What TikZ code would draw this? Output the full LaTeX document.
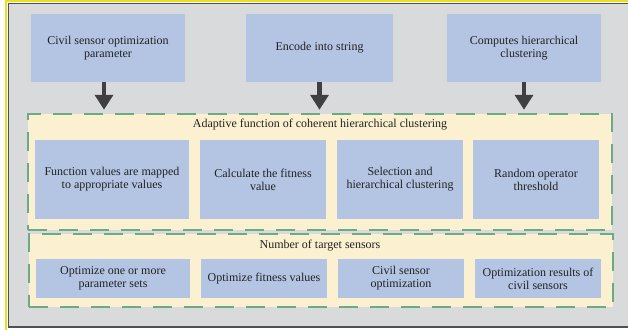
\documentclass[tikz,border=0pt]{standalone}
\usepackage{fontspec}
\setmainfont{Liberation Serif}
\usetikzlibrary{arrows.meta}

\definecolor{bggray}{HTML}{D9DADB}
\definecolor{framegray}{HTML}{505050}
\definecolor{frameyellow}{HTML}{E8E020}
\definecolor{boxblue}{HTML}{B4C5E4}
\definecolor{creambg}{HTML}{FBF1D0}
\definecolor{dashgreen}{HTML}{6BAA85}
\definecolor{arrowgray}{HTML}{404040}
\definecolor{txtgray}{HTML}{222222}

\tikzset{
	blkbox/.style={fill=boxblue, inner sep=0pt, align=center, text=txtgray,
		font=\fontsize{12}{13}\selectfont},
	panel/.style={fill=creambg, draw=dashgreen, line width=2.5pt,
		dash pattern=on 19pt off 12pt, inner sep=0pt},
	paneltitle/.style={text=txtgray, font=\fontsize{12}{13}\selectfont},
	fatarrow/.style={draw=arrowgray, line width=4.5pt,
		-{Triangle[width=18pt,length=15pt]}, shorten >=3pt}
}

\begin{document}
\begin{tikzpicture}[x=1pt, y=-1pt]

	\useasboundingbox (0,0) rectangle (628,329);

	% frame
	\draw[frameyellow, line width=2pt] (6,1) rectangle (660,360);
	\draw[framegray, line width=1.5pt, fill=bggray] (8.5,3.5) rectangle (660,327);

	% top row
	\node[blkbox, minimum width=154pt, minimum height=68pt] (civil) at (108,48)
		{Civil sensor optimization\\parameter};
	\node[blkbox, minimum width=147pt, minimum height=68pt] (encode) at (319.5,48)
		{Encode into string};
	\node[blkbox, minimum width=154pt, minimum height=68pt] (computes) at (524,48)
		{Computes hierarchical\\clustering};

	% adaptive function panel
	\node[panel, minimum width=584pt, minimum height=116pt] (adapt) at (320,172) {};
	\node[paneltitle] (adapttitle) at (320,125)
		{Adaptive function of coherent hierarchical clustering};
	\node[blkbox, minimum width=154pt, minimum height=79pt] (mapped) at (112,179.5)
		{Function values are mapped\\to appropriate values};
	\node[blkbox, minimum width=126pt, minimum height=79pt] (fitness) at (263,179.5)
		{Calculate the fitness\\value};
	\node[blkbox, minimum width=126pt, minimum height=79pt] (selection) at (400,179.5)
		{Selection and\\hierarchical clustering};
	\node[blkbox, minimum width=126pt, minimum height=79pt] (random) at (536,179.5)
		{Random operator\\threshold};

	% target sensors panel
	\node[panel, minimum width=584pt, minimum height=73pt] (target) at (321,270.5) {};
	\node[paneltitle] (targettitle) at (320,246) {Number of target sensors};
	\node[blkbox, minimum width=154pt, minimum height=39pt] (paramsets) at (113,278.5)
		{Optimize one or more\\parameter sets};
	\node[blkbox, minimum width=126pt, minimum height=39pt] (optfit) at (264,278.5)
		{Optimize fitness values};
	\node[blkbox, minimum width=126pt, minimum height=39pt] (civilopt) at (401,278.5)
		{Civil sensor\\optimization};
	\node[blkbox, minimum width=126pt, minimum height=39pt] (results) at (538,278.5)
		{Optimization results of\\civil sensors};

	% arrows
	\draw[fatarrow] ([xshift=-4pt]civil.south) -- ([xshift=-4pt]civil.south |- adapt.north);
	\draw[fatarrow] (encode.south) -- (encode.south |- adapt.north);
	\draw[fatarrow] (computes.south) -- (computes.south |- adapt.north);

\end{tikzpicture}
\end{document}
